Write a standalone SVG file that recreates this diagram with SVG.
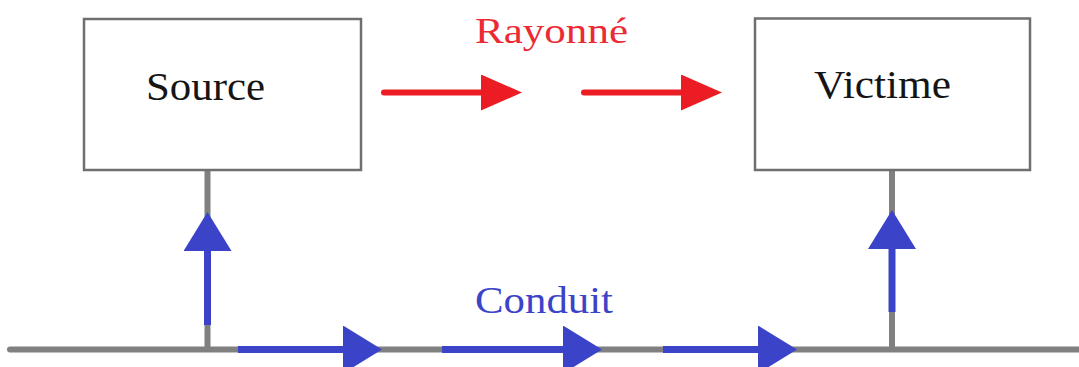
<svg xmlns="http://www.w3.org/2000/svg" width="1079" height="367" viewBox="0 0 1079 367">
<style>
.box{fill:#fff;stroke:#6f6f6f;stroke-width:2.5}
.lbl{font-family:"Liberation Serif",serif;font-size:40px;fill:#151515}
.wire{stroke:#808080;stroke-width:6;fill:none}
.red{stroke:#ec1c24;stroke-width:6;fill:none;stroke-linecap:round}
.blue{stroke:#3b44c9;stroke-width:7;fill:none;stroke-linecap:butt}
.rt{font-family:"Liberation Serif",serif;font-size:36px;fill:#ec2a33}
.bt{font-family:"Liberation Serif",serif;font-size:37px;fill:#3b44c9}
</style>
<defs>
<marker id="hr" markerUnits="userSpaceOnUse" markerWidth="42" markerHeight="38" refX="0" refY="18" orient="auto"><path d="M0,0 L41,18 L0,36 Z" fill="#ec1c24"/></marker>
<marker id="hb" markerUnits="userSpaceOnUse" markerWidth="40" markerHeight="50" refX="0" refY="24" orient="auto"><path d="M0,0 L39,24 L0,48 Z" fill="#3b44c9"/></marker>
</defs>
<g id="connectors">
<line class="wire" x1="10" y1="349.5" x2="1079" y2="349.5" stroke-linecap="round"/>
<line class="wire" x1="207.5" y1="170" x2="207.5" y2="349.5"/>
<line class="wire" x1="892" y1="170" x2="892" y2="349.5"/>
<line class="red" x1="384" y1="92.5" x2="481" y2="92.5" marker-end="url(#hr)"/>
<line class="red" x1="584" y1="92.5" x2="681" y2="92.5" marker-end="url(#hr)"/>
<line class="blue" x1="207.5" y1="325" x2="207.5" y2="251" marker-end="url(#hb)"/>
<line class="blue" x1="892" y1="312" x2="892" y2="249" marker-end="url(#hb)"/>
<line class="blue" x1="238" y1="349.5" x2="343" y2="349.5" marker-end="url(#hb)"/>
<line class="blue" x1="442" y1="349.5" x2="563" y2="349.5" marker-end="url(#hb)"/>
<line class="blue" x1="663" y1="349.5" x2="758" y2="349.5" marker-end="url(#hb)"/>
<text class="rt" x="475" y="42.5" textLength="153" lengthAdjust="spacingAndGlyphs">Rayonné</text>
<text class="bt" x="475" y="312.5" textLength="138" lengthAdjust="spacingAndGlyphs">Conduit</text>
</g>
<g id="source">
<rect class="box" x="84" y="19" width="277" height="151"/>
<text class="lbl" x="146" y="99.5" textLength="119" lengthAdjust="spacingAndGlyphs">Source</text>
</g>
<g id="victime">
<rect class="box" x="755" y="18.5" width="275" height="151.5"/>
<text class="lbl" x="814" y="98" textLength="137" lengthAdjust="spacingAndGlyphs">Victime</text>
</g>
</svg>
